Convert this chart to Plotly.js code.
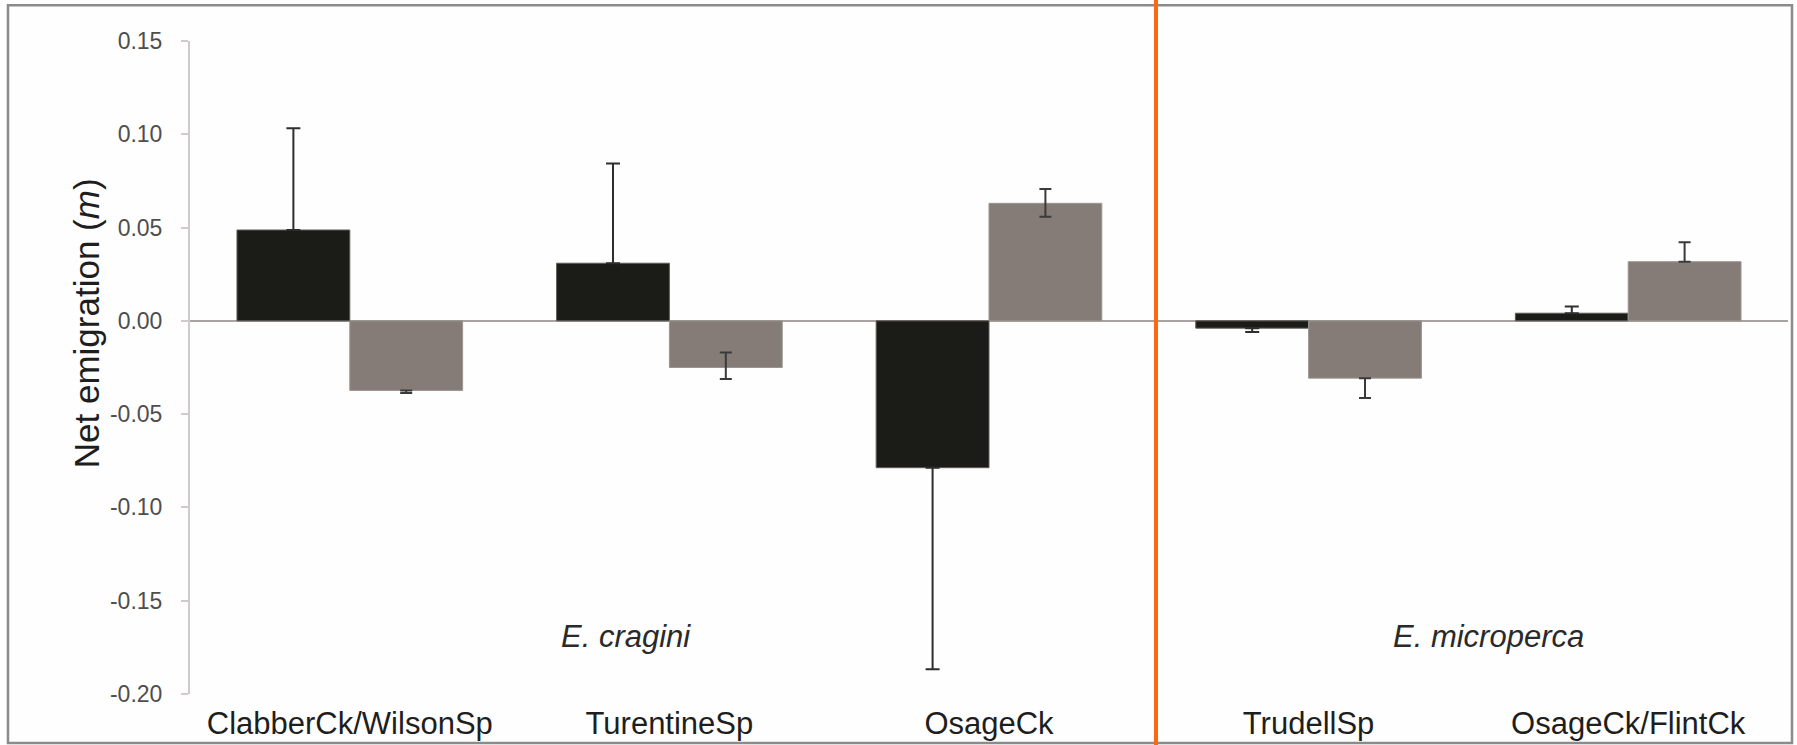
<!DOCTYPE html>
<html>
<head>
<meta charset="utf-8">
<script src="https://cdn.plot.ly/plotly-3.0.1.min.js"></script>
<style>
  html, body { margin: 0; padding: 0; background: #fefefe; }
  #chart { width: 1797px; height: 745px; }
</style>
</head>
<body>
<div id="chart"></div>
<script>
// ---- data ----
const sites = ["ClabberCk/WilsonSp", "TurentineSp", "OsageCk", "TrudellSp", "OsageCk/FlintCk"];
const seriesA = [0.0487, 0.0309, -0.0787, -0.0039, 0.0041];     // black bars
const seriesAPlus = [0.0545, 0.0535, 0.0, 0.0, 0.0036];
const seriesAMinus = [0.0, 0.0, 0.108, 0.0021, 0.0];
const seriesB = [-0.0373, -0.0250, 0.0630, -0.0307, 0.0317];    // gray bars
const seriesBPlus = [0.0, 0.0081, 0.0077, 0.0, 0.0104];
const seriesBMinus = [0.0014, 0.0062, 0.0072, 0.0107, 0.0];
const yTicks = [0.15, 0.10, 0.05, 0.00, -0.05, -0.10, -0.15, -0.20];
const yTickText = ["0.15", "0.10", "0.05", "0.00", "-0.05", "-0.10", "-0.15", "-0.20"];
const groupLabels = ["E. cragini", "E. microperca"];

const FONT = "Liberation Sans, Arial, sans-serif";

const traceA = {
  type: "bar", x: sites, y: seriesA, name: "A",
  marker: { color: "#1b1c17", line: { color: "#5f5b58", width: 1 } },
  error_y: { type: "data", symmetric: false, array: seriesAPlus, arrayminus: seriesAMinus,
             color: "#2e2e2e", thickness: 2, width: 7 },
  hoverinfo: "none"
};
const traceB = {
  type: "bar", x: sites, y: seriesB, name: "B",
  marker: { color: "#857c77", line: { color: "#9a9592", width: 1 } },
  error_y: { type: "data", symmetric: false, array: seriesBPlus, arrayminus: seriesBMinus,
             color: "#3a3a3a", thickness: 2, width: 6 },
  hoverinfo: "none"
};

const layout = {
  width: 1797, height: 745,
  margin: { l: 190, r: 9, t: 41, b: 51, pad: 0 },
  paper_bgcolor: "#fefefe", plot_bgcolor: "#fefefe",
  showlegend: false,
  barmode: "group", bargap: 0.294, bargroupgap: 0,
  font: { family: FONT, color: "#222" },
  xaxis: {
    type: "category", range: [-0.5, 4.5], showgrid: false, showline: false, zeroline: false,
    ticks: "", ticklabelstandoff: 8,
    tickfont: { family: FONT, size: 31, color: "#1e1e1e" }
  },
  yaxis: {
    range: [-0.20, 0.15], tickvals: yTicks, ticktext: yTickText,
    showgrid: false, showline: true, linecolor: "#cfcbca", linewidth: 2,
    ticks: "outside", ticklen: 7, tickwidth: 2, tickcolor: "#cfcbca",
    ticklabelstandoff: 14,
    zeroline: true, zerolinecolor: "#a8a3a1", zerolinewidth: 2.5,
    tickfont: { family: FONT, size: 23, color: "#4e4e4e" }
  },
  annotations: [
    { text: "Net emigration (<i>m</i>)", xref: "paper", yref: "paper", x: -0.065, y: 0.568,
      textangle: -90, showarrow: false, xanchor: "center", yanchor: "middle",
      font: { family: FONT, size: 35, color: "#1e1e1e" } },
    { text: "<i>" + groupLabels[0] + "</i>", xref: "paper", yref: "paper", x: 0.2728, y: 0.088,
      showarrow: false, xanchor: "center", yanchor: "middle",
      font: { family: FONT, size: 31, color: "#2a2a2a" } },
    { text: "<i>" + groupLabels[1] + "</i>", xref: "paper", yref: "paper", x: 0.8123, y: 0.088,
      showarrow: false, xanchor: "center", yanchor: "middle",
      font: { family: FONT, size: 31, color: "#2a2a2a" } }
  ],
  shapes: [
    { type: "rect", xref: "paper", yref: "paper", x0: -0.1139, x1: 1.0025, y0: -0.075, y1: 1.0546,
      line: { color: "#8c8a8a", width: 2.5 }, fillcolor: "rgba(0,0,0,0)", layer: "above" },
    { type: "line", xref: "paper", yref: "paper", x0: 0.6045, x1: 0.6045, y0: -0.1, y1: 1.1,
      line: { color: "#fb680f", width: 4 }, layer: "above" }
  ]
};

Plotly.newPlot("chart", [traceA, traceB], layout, { displayModeBar: false, staticPlot: true });
</script>
</body>
</html>
